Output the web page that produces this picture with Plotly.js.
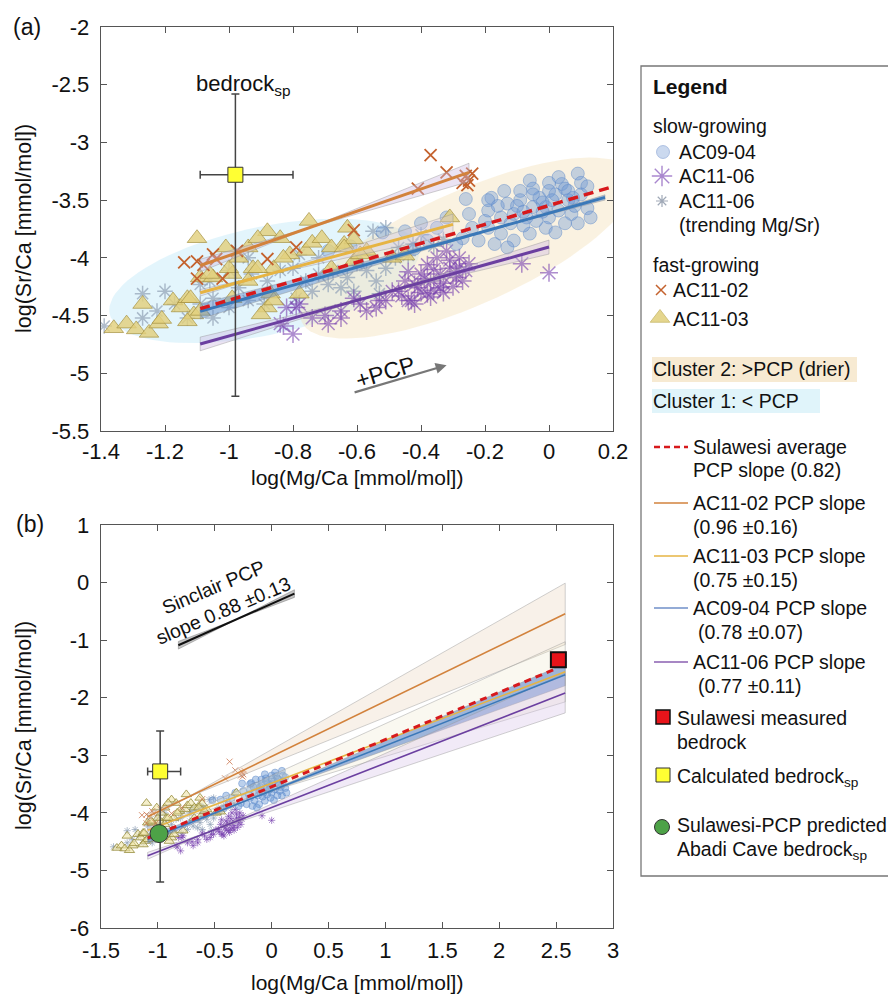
<!DOCTYPE html>
<html><head><meta charset="utf-8">
<script src="https://cdn.plot.ly/plotly-3.0.1.min.js"></script>
<style>html,body{margin:0;padding:0;background:#fff}#chart{width:888px;height:996px}</style>
</head><body><div id="chart"></div>
<script>
// ---------------- DATA ----------------
const ac0904_x = [-0.26,-0.18,-0.14,-0.09,-0.05,0.00,0.04,0.09,0.10,0.075,0.12,0.13,0.09,0.03,-0.01,-0.05,-0.07,-0.11,-0.15,-0.19,-0.19,-0.15,-0.11,-0.06,-0.01,0.00,-0.25,-0.24,-0.27,-0.29,-0.32,-0.35,-0.22,-0.17,-0.13,-0.09,-0.03,0.02,0.06,-0.06,0.00,-0.19,-0.13,-0.69,-0.60,-0.52,-0.45,-0.40,-0.62,-0.38,-0.42,0.05,-0.02,0.07,-0.08,0.03,-0.05,0.01,0.06,-0.10,-0.02,0.10,0.08,-0.12,-0.04,0.05,-0.20,-0.16,0.02,-0.08,0.12];
const ac0904_y = [-3.49,-3.48,-3.42,-3.42,-3.40,-3.35,-3.36,-3.27,-3.35,-3.48,-3.57,-3.65,-3.70,-3.59,-3.56,-3.56,-3.65,-3.62,-3.65,-3.59,-3.74,-3.79,-3.85,-3.79,-3.74,-3.65,-3.62,-3.74,-3.83,-3.88,-3.65,-3.74,-3.85,-3.88,-3.91,-3.50,-3.48,-3.45,-3.50,-3.33,-3.42,-3.50,-3.53,-3.94,-4.03,-3.78,-3.77,-3.70,-3.90,-3.85,-3.92,-3.40,-3.52,-3.62,-3.72,-3.30,-3.45,-3.50,-3.42,-3.55,-3.60,-3.45,-3.55,-3.70,-3.68,-3.70,-3.68,-3.55,-3.78,-3.60,-3.38];

const ac1106_x = [0.00,-0.085,-0.28,-0.31,-0.34,-0.37,-0.34,-0.38,-0.41,-0.43,-0.47,-0.40,-0.29,-0.26,-0.51,-0.54,-0.59,-0.65,-0.69,-0.35,-0.32,-0.84,-0.79,-0.74,-0.70,-0.65,-0.61,-0.57,-0.53,-0.49,-0.44,-0.42,-0.80,-0.82,-0.83,-0.78,-0.36,-0.33,-0.30,-0.39,-0.45,-0.44,-0.28,-0.36,-0.31,-0.27,-0.40,-0.37,-0.46,-0.42,-0.33,-0.29,-0.38,-0.25];
const ac1106_y = [-4.13,-4.05,-4.00,-4.09,-4.14,-4.20,-4.26,-4.31,-4.26,-4.37,-4.29,-4.14,-4.17,-4.11,-4.37,-4.43,-4.40,-4.52,-4.57,-4.00,-3.94,-4.57,-4.43,-4.52,-4.50,-4.46,-4.35,-4.46,-4.37,-4.29,-4.37,-4.23,-4.66,-4.43,-4.59,-4.40,-4.10,-4.22,-4.25,-4.18,-4.20,-4.12,-4.08,-4.28,-4.02,-4.20,-4.30,-4.34,-4.33,-4.40,-4.30,-4.12,-4.06,-4.05];

const ac1106t_x = [-1.39,-1.27,-1.20,-1.27,-1.09,-0.94,-0.93,-0.97,-0.88,-0.84,-0.80,-0.76,-0.72,-0.675,-0.63,-0.60,-0.57,-0.54,-0.51,-0.48,-0.55,-0.51,-0.47,-0.425,-0.69,-0.74,-0.89,-0.94,-1.00,-1.05,-1.06,-1.00,-0.78,-0.72,-0.65,-0.61,-0.53,-0.79,-1.05,-1.09,-1.13,-1.17,-1.225,-0.40,-0.36,-0.44,-0.33];
const ac1106t_y = [-4.59,-4.31,-4.29,-4.52,-4.23,-4.00,-4.14,-4.26,-4.20,-4.11,-4.09,-4.20,-4.14,-4.11,-4.17,-4.05,-4.11,-4.20,-4.09,-4.00,-3.77,-3.74,-3.91,-3.88,-4.23,-4.29,-4.40,-4.37,-4.43,-4.35,-4.20,-4.11,-3.97,-4.00,-4.26,-4.29,-4.31,-4.35,-4.52,-4.40,-4.52,-4.40,-4.46,-3.80,-3.90,-3.98,-3.84];

const ac1102_x = [-1.14,-1.10,-1.08,-1.05,-1.04,-1.10,-1.02,-0.975,-0.88,-0.79,-0.61,-0.41,-0.37,-0.32,-0.26,-0.25,-0.24,-0.27,-0.255];
const ac1102_y = [-4.04,-4.03,-4.06,-3.97,-4.01,-4.18,-4.18,-3.94,-4.01,-3.91,-3.76,-3.40,-3.11,-3.26,-3.29,-3.33,-3.27,-3.35,-3.37];

const ac1103_x = [-1.36,-1.32,-1.29,-1.25,-1.22,-1.21,-1.27,-1.175,-1.15,-1.13,-1.11,-1.09,-1.10,-1.09,-1.05,-1.01,-0.99,-0.94,-0.925,-0.88,-0.86,-0.84,-0.81,-0.75,-0.76,-0.88,-0.87,-0.99,-1.13,-0.74,-0.71,-0.83,-0.91,-0.94,-1.00,-1.06,-1.12,-0.90,-0.86,-0.78,-0.64,-0.63,-0.61,-0.68,-0.57,-0.91,-0.97,-0.61,-0.68,-0.64,-0.31,-0.49,-0.45,-0.59];
const ac1103_y = [-4.61,-4.57,-4.62,-4.65,-4.57,-4.53,-4.40,-4.37,-4.43,-4.35,-4.49,-4.46,-3.83,-4.17,-4.17,-3.91,-4.14,-3.91,-4.09,-3.77,-4.09,-3.83,-3.97,-3.68,-3.94,-4.43,-4.31,-4.35,-4.55,-3.87,-3.83,-4.00,-4.09,-4.20,-4.09,-4.14,-4.35,-4.49,-4.37,-4.31,-3.88,-3.74,-4.03,-4.09,-3.94,-3.83,-4.00,-3.84,-3.91,-3.91,-3.65,-4.00,-3.98,-3.97];

// PCP fits: slope, slope uncertainty, pivot point, x-extent in (a) and (b)
const fitNames   = ['AC11-02','AC11-03','AC09-04','AC11-06'];
const fitSlope   = [0.96, 0.75, 0.78, 0.77];
const fitErr     = [0.16, 0.15, 0.07, 0.11];
const fitPivotX  = [-0.75, -0.90, -0.15, -0.55];
const fitPivotY  = [-3.74, -4.16, -3.73, -4.33];
const fitXminA   = [-1.09, -1.09, -1.09, -1.09];
const fitXmaxA   = [-0.25, -0.30, 0.175, 0.00];
const fitXmaxB   = [2.58, 2.58, 2.58, 2.58];

const sulSlope = 0.82, sulPivotX = -1.09, sulPivotY = -4.44, sulXmaxA = 0.2, sulXmaxB = 2.48;
const sinSlope = 0.88, sinErr = 0.13, sinPivotX = -0.31, sinPivotY = -0.64, sinXmin = -0.82, sinXmax = 0.20;

// bedrock points
const bedSp_x = [-0.98], bedSp_y = [-3.28], bedSp_xp = [0.18], bedSp_xm = [0.11], bedSp_yp = [0.70], bedSp_ym = [1.92];
const sulBed_x = [2.52], sulBed_y = [-1.34];
const predBed_x = [-0.99], predBed_y = [-4.36];

// tick labels
const xaTicks = [-1.4,-1.2,-1,-0.8,-0.6,-0.4,-0.2,0,0.2];
const xaLabels = ['-1.4','-1.2','-1','-0.8','-0.6','-0.4','-0.2','0','0.2'];
const yaTicks = [-5.5,-5,-4.5,-4,-3.5,-3,-2.5,-2];
const yaLabels = ['-5.5','-5','-4.5','-4','-3.5','-3','-2.5','-2'];
const xbTicks = [-1.5,-1,-0.5,0,0.5,1,1.5,2,2.5,3];
const xbLabels = ['-1.5','-1','-0.5','0','0.5','1','1.5','2','2.5','3'];
const ybTicks = [-6,-5,-4,-3,-2,-1,0,1];
const ybLabels = ['-6','-5','-4','-3','-2','-1','0','1'];

// ---------------- STYLE / LAYOUT ----------------
const FONT = 'Liberation Sans, Arial, Helvetica, sans-serif';
const W = 888, H = 996;
const plotL = 101, plotR = 613;
const aTop = 27, aBot = 431, bTop = 525, bBot = 928;
const fitColors = ['#D2823C', '#E6B443', '#3A78B8', '#6B3FA0'];
const bandFillA = ['rgba(205,185,225,0.40)','rgba(215,200,225,0.35)','rgba(90,135,200,0.45)','rgba(205,185,225,0.40)'];
const bandFillB = ['rgba(236,214,192,0.35)','rgba(236,226,195,0.25)','rgba(80,125,200,0.55)','rgba(215,195,232,0.35)'];
const RED = '#D7191C';

// cluster ellipses (pixel semi-axes, angle)
const clusters = [
  {cx:-0.89, cy:-4.20, a:158, b:54, ang:12, fill:'rgba(212,240,250,0.65)'},
  {cx:-0.253, cy:-3.915, a:182, b:57, ang:24, fill:'rgba(244,226,188,0.45)'}
];
const sxA = (plotR-plotL)/1.6, syA = (aBot-aTop)/3.5;

function ellipse(c){
  const xs=[], ys=[], th=c.ang*Math.PI/180;
  for(let i=0;i<=90;i++){
    const t=i/90*2*Math.PI;
    const dx=c.a*Math.cos(t)*Math.cos(th)-c.b*Math.sin(t)*Math.sin(th);
    const dy=c.a*Math.cos(t)*Math.sin(th)+c.b*Math.sin(t)*Math.cos(th);
    xs.push(c.cx+dx/sxA); ys.push(c.cy+dy/syA);
  }
  return {xs, ys};
}
function lineAt(s, pvx, pvy, x){ return pvy + s*(x-pvx); }
function band(s, e, pvx, pvy, x0, x1){
  const xs=[x0,pvx,x1,x1,pvx,x0,x0];
  const up = x => lineAt(s,pvx,pvy,x)+e*Math.abs(x-pvx);
  const lo = x => lineAt(s,pvx,pvy,x)-e*Math.abs(x-pvx);
  const ys=[up(x0),up(pvx),up(x1),lo(x1),lo(pvx),lo(x0),up(x0)];
  return {xs, ys};
}

const traces = [];
clusters.forEach(c=>{
  const e=ellipse(c);
  traces.push({x:e.xs,y:e.ys,xaxis:'x',yaxis:'y',mode:'lines',fill:'toself',fillcolor:c.fill,line:{width:0,color:'rgba(0,0,0,0)'},hoverinfo:'skip',showlegend:false});
});

function scatterSet(ax, ay, big){
  traces.push({x:ac1106t_x,y:ac1106t_y,xaxis:ax,yaxis:ay,mode:'markers',showlegend:false,
    marker:{symbol:'asterisk-open',size:big?13:6,color:'rgba(150,165,185,0.75)',line:{color:'rgba(150,165,185,0.75)',width:big?1.5:1}}});
  traces.push({x:ac1106_x,y:ac1106_y,xaxis:ax,yaxis:ay,mode:'markers',showlegend:false,
    marker:{symbol:'asterisk-open',size:big?15:6,color:'rgba(120,65,175,0.6)',line:{color:'rgba(120,65,175,0.6)',width:big?1.5:1}}});
  traces.push({x:ac0904_x,y:ac0904_y,xaxis:ax,yaxis:ay,mode:'markers',showlegend:false,
    marker:{symbol:'circle',size:big?13:7,color:big?'rgba(105,150,212,0.38)':'rgba(105,150,212,0.45)',line:{color:'rgba(90,135,200,0.45)',width:1}}});
  traces.push({x:ac1103_x,y:ac1103_y,xaxis:ax,yaxis:ay,mode:'markers',showlegend:false,
    marker:{symbol:'triangle-up',size:big?17:9,color:big?'rgba(226,208,125,0.82)':'rgba(236,226,160,0.55)',line:{color:big?'rgba(165,145,65,0.7)':'rgba(150,140,60,0.8)',width:1}}});
  traces.push({x:ac1102_x,y:ac1102_y,xaxis:ax,yaxis:ay,mode:'markers',showlegend:false,
    marker:{symbol:'x-thin-open',size:big?12:6,color:big?'#C4622E':'rgba(205,120,80,0.8)',line:{color:big?'#C4622E':'rgba(205,120,80,0.8)',width:big?1.8:1}}});
}

function fitSet(ax, ay, panelB){
  for(let i=0;i<fitNames.length;i++){
    const x1 = panelB ? fitXmaxB[i] : fitXmaxA[i];
    const b = band(fitSlope[i],fitErr[i],fitPivotX[i],fitPivotY[i],fitXminA[i],x1);
    traces.push({x:b.xs,y:b.ys,xaxis:ax,yaxis:ay,mode:'lines',fill:'toself',
      fillcolor:panelB?bandFillB[i]:bandFillA[i],line:{color:'rgba(150,150,150,0.55)',width:0.8},hoverinfo:'skip',showlegend:false});
  }
  for(let i=0;i<fitNames.length;i++){
    const x1 = panelB ? fitXmaxB[i] : fitXmaxA[i];
    const xs=[fitXminA[i],x1];
    traces.push({x:xs,y:xs.map(x=>lineAt(fitSlope[i],fitPivotX[i],fitPivotY[i],x)),xaxis:ax,yaxis:ay,mode:'lines',
      line:{color:fitColors[i],width:panelB?1.6:3},showlegend:false,name:fitNames[i]});
  }
  const sx=[sulPivotX, panelB?sulXmaxB:sulXmaxA];
  traces.push({x:sx,y:sx.map(x=>lineAt(sulSlope,sulPivotX,sulPivotY,x)),xaxis:ax,yaxis:ay,mode:'lines',
    line:{color:RED,width:panelB?3:3.5,dash:panelB?'7px,5px':'10px,6px'},showlegend:false,name:'Sulawesi'});
}

scatterSet('x','y',true);
fitSet('x','y',false);
traces.push({x:bedSp_x,y:bedSp_y,xaxis:'x',yaxis:'y',mode:'markers',showlegend:false,
  marker:{symbol:'square',size:15,color:'#FFFF33',line:{color:'#333',width:1}},
  error_x:{type:'data',symmetric:false,array:bedSp_xp,arrayminus:bedSp_xm,color:'#444',thickness:1.5,width:4},
  error_y:{type:'data',symmetric:false,array:bedSp_yp,arrayminus:bedSp_ym,color:'#444',thickness:1.5,width:4}});

scatterSet('x2','y2',false);
fitSet('x2','y2',true);
const sb = band(sinSlope,sinErr,sinPivotX,sinPivotY,sinXmin,sinXmax);
traces.push({x:sb.xs,y:sb.ys,xaxis:'x2',yaxis:'y2',mode:'lines',fill:'toself',fillcolor:'rgba(140,140,140,0.5)',line:{color:'rgba(120,120,120,0.6)',width:0.8},showlegend:false,hoverinfo:'skip'});
const sxs=[sinXmin,sinXmax];
traces.push({x:sxs,y:sxs.map(x=>lineAt(sinSlope,sinPivotX,sinPivotY,x)),xaxis:'x2',yaxis:'y2',mode:'lines',line:{color:'#111',width:2},showlegend:false});
traces.push({x:bedSp_x,y:bedSp_y,xaxis:'x2',yaxis:'y2',mode:'markers',showlegend:false,
  marker:{symbol:'square',size:15,color:'#FFFF33',line:{color:'#333',width:1}},
  error_x:{type:'data',symmetric:false,array:bedSp_xp,arrayminus:bedSp_xm,color:'#444',thickness:1.5,width:4},
  error_y:{type:'data',symmetric:false,array:bedSp_yp,arrayminus:bedSp_ym,color:'#444',thickness:1.5,width:4}});
traces.push({x:predBed_x,y:predBed_y,xaxis:'x2',yaxis:'y2',mode:'markers',showlegend:false,
  marker:{symbol:'circle',size:18,color:'#4DA247',line:{color:'#333',width:1}}});
traces.push({x:sulBed_x,y:sulBed_y,xaxis:'x2',yaxis:'y2',mode:'markers',showlegend:false,
  marker:{symbol:'square',size:15,color:'#E8141A',line:{color:'#111',width:2}}});

// ---------------- LEGEND (pixel overlay axis x3/y3) ----------------
const legMarkers = [
  {x:663,y:152,symbol:'circle',size:13,color:'rgba(160,185,225,0.55)',lc:'rgba(120,150,205,0.5)',lw:1},
  {x:662,y:176,symbol:'asterisk-open',size:17,color:'rgba(140,95,190,0.75)',lc:'rgba(140,95,190,0.75)',lw:1.4},
  {x:662,y:201,symbol:'asterisk-open',size:10,color:'rgba(150,160,175,0.9)',lc:'rgba(150,160,175,0.9)',lw:1.2},
  {x:661,y:290,symbol:'x-thin-open',size:10,color:'#C4622E',lc:'#C4622E',lw:1.5},
  {x:660,y:318,symbol:'triangle-up',size:17,color:'rgba(226,210,130,0.9)',lc:'rgba(200,185,110,0.8)',lw:1},
  {x:663,y:717,symbol:'square',size:14,color:'#E8141A',lc:'#111',lw:1.5},
  {x:663,y:775,symbol:'square',size:14,color:'#FFFF33',lc:'#333',lw:1},
  {x:662,y:827,symbol:'circle',size:15,color:'#4DA247',lc:'#333',lw:1}
];
legMarkers.forEach(m=>traces.push({x:[m.x],y:[m.y],xaxis:'x3',yaxis:'y3',mode:'markers',showlegend:false,hoverinfo:'skip',
  marker:{symbol:m.symbol,size:m.size,color:m.color,line:{color:m.lc,width:m.lw}}}));

const shapes = [
  {type:'rect',xref:'x3',yref:'y3',x0:641,x1:892,y0:66,y1:876,line:{color:'#777',width:1.3},fillcolor:'rgba(0,0,0,0)',layer:'below'},
  {type:'rect',xref:'x3',yref:'y3',x0:652,x1:857,y0:357,y1:382,line:{width:0},fillcolor:'#F7EAD2',layer:'below'},
  {type:'rect',xref:'x3',yref:'y3',x0:652,x1:820,y0:389,y1:413,line:{width:0},fillcolor:'#E0F4FA',layer:'below'},
  {type:'line',xref:'x3',yref:'y3',x0:654,x1:688,y0:447,y1:447,line:{color:RED,width:2.5,dash:'6px,4px'}},
  {type:'line',xref:'x3',yref:'y3',x0:654,x1:688,y0:503,y1:503,line:{color:fitColors[0],width:1.5}},
  {type:'line',xref:'x3',yref:'y3',x0:654,x1:688,y0:556,y1:556,line:{color:fitColors[1],width:1.5}},
  {type:'line',xref:'x3',yref:'y3',x0:654,x1:688,y0:608,y1:608,line:{color:'#6F8FC8',width:1.5}},
  {type:'line',xref:'x3',yref:'y3',x0:654,x1:688,y0:662,y1:662,line:{color:'#8A5FB0',width:1.5}}
];

const LF = 19.5;
function pa(text,x,y,opts){
  return Object.assign({text:text,x:x,y:y,xref:'x3',yref:'y3',xanchor:'left',yanchor:'middle',showarrow:false,
    font:{family:FONT,size:LF,color:'#111'}},opts||{});
}
const annotations = [
  pa('<b>Legend</b>',651,86,{font:{family:FONT,size:21,color:'#111'}}),
  pa('slow-growing',651,126),
  pa('AC09-04',677,152),
  pa('AC11-06',677,176),
  pa('AC11-06',677,201),
  pa('(trending Mg/Sr)',677,225),
  pa('fast-growing',651,265),
  pa('AC11-02',671,290),
  pa('AC11-03',671,319),
  pa('Cluster 2: >PCP (drier)',651,369),
  pa('Cluster 1: < PCP',651,401),
  pa('Sulawesi average',691,447),
  pa('PCP slope (0.82)',691,470),
  pa('AC11-02 PCP slope',691,503),
  pa('(0.96 ±0.16)',691,527),
  pa('AC11-03 PCP slope',691,556),
  pa('(0.75 ±0.15)',691,580),
  pa('AC09-04 PCP slope',691,608),
  pa('(0.78 ±0.07)',696,632),
  pa('AC11-06 PCP slope',691,662),
  pa('(0.77 ±0.11)',696,686),
  pa('Sulawesi measured',675,718),
  pa('bedrock',675,742),
  pa('Calculated bedrock<sub>sp</sub>',675,777),
  pa('Sulawesi-PCP predicted',675,825),
  pa('Abadi Cave bedrock<sub>sp</sub>',675,850),
  pa('(a)',11,27,{font:{family:FONT,size:23,color:'#111'}}),
  pa('(b)',14,524,{font:{family:FONT,size:23,color:'#111'}}),
  pa('log(Mg/Ca [mmol/mol])',357,477,{xanchor:'center',font:{family:FONT,size:21,color:'#111'}}),
  pa('log(Mg/Ca [mmol/mol])',357,982,{xanchor:'center',font:{family:FONT,size:21,color:'#111'}}),
  pa('log(Sr/Ca [mmol/mol])',24,229,{xanchor:'center',textangle:-90,font:{family:FONT,size:21.5,color:'#111'}}),
  pa('log(Sr/Ca [mmol/mol])',24,726,{xanchor:'center',textangle:-90,font:{family:FONT,size:21.5,color:'#111'}}),
  {text:'bedrock<sub>sp</sub>',x:-0.955,y:-2.50,xref:'x',yref:'y',showarrow:false,xanchor:'center',yanchor:'middle',font:{family:FONT,size:22,color:'#111'}},
  {text:' ',x:-0.32,y:-4.93,xref:'x',yref:'y',ax:-95,ay:28,showarrow:true,arrowhead:2,arrowsize:1,arrowwidth:2.2,arrowcolor:'#777'},
  {text:'+PCP',x:-0.51,y:-4.99,xref:'x',yref:'y',showarrow:false,textangle:-17,font:{family:FONT,size:23,color:'#111'}},
  {text:'Sinclair PCP<br>slope 0.88 ±0.13',x:-0.47,y:-0.27,xref:'x2',yref:'y2',showarrow:false,textangle:-23,align:'center',font:{family:FONT,size:19.5,color:'#111'}}
];

function axisCommon(){
  return {showline:true,linecolor:'#555',linewidth:1.3,mirror:'ticks',ticks:'inside',ticklen:6,tickwidth:1,tickcolor:'#555',
    showgrid:false,zeroline:false,tickmode:'array',tickfont:{family:FONT,size:22,color:'#111'},fixedrange:true};
}
const layout = {
  width:W,height:H,margin:{l:0,r:0,t:0,b:0},paper_bgcolor:'#fff',plot_bgcolor:'rgba(0,0,0,0)',
  showlegend:false,font:{family:FONT},
  xaxis:Object.assign(axisCommon(),{domain:[plotL/W,plotR/W],range:[-1.4,0.2],tickvals:xaTicks,ticktext:xaLabels,anchor:'y',ticklabelstandoff:0}),
  yaxis:Object.assign(axisCommon(),{domain:[1-aBot/H,1-aTop/H],range:[-5.5,-2],tickvals:yaTicks,ticktext:yaLabels,anchor:'x',ticklabelstandoff:6}),
  xaxis2:Object.assign(axisCommon(),{domain:[plotL/W,plotR/W],range:[-1.5,3],tickvals:xbTicks,ticktext:xbLabels,anchor:'y2',ticklabelstandoff:2}),
  yaxis2:Object.assign(axisCommon(),{domain:[1-bBot/H,1-bTop/H],range:[-6,1],tickvals:ybTicks,ticktext:ybLabels,anchor:'x2',ticklabelstandoff:6}),
  xaxis3:{domain:[0,1],range:[0,W],visible:false,fixedrange:true,anchor:'y3'},
  yaxis3:{domain:[0,1],range:[H,0],visible:false,fixedrange:true,anchor:'x3'},
  shapes:shapes,annotations:annotations
};
Plotly.newPlot('chart',traces,layout,{staticPlot:true,displayModeBar:false});
</script></body></html>
